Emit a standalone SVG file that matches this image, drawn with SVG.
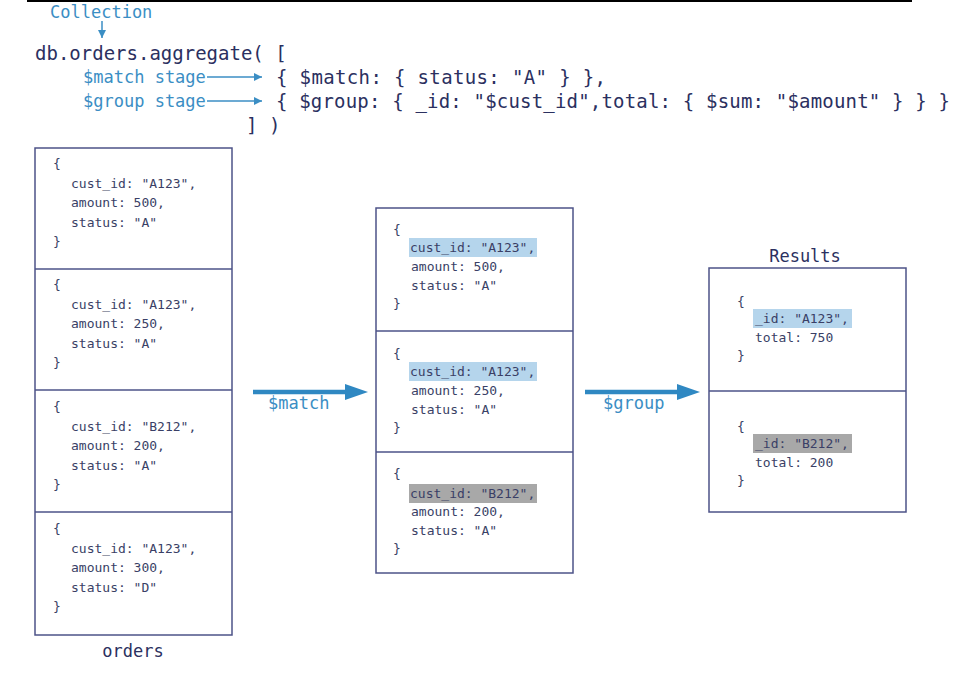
<svg xmlns="http://www.w3.org/2000/svg" width="965" height="700" viewBox="0 0 965 700">
<defs>
<style>
.code{font-family:"DejaVu Sans Mono","Liberation Mono",monospace;font-size:19px;fill:#2b3060}
.lbl{font-family:"DejaVu Sans Mono","Liberation Mono",monospace;font-size:17px;fill:#3b8ec4}
.ttl{font-family:"DejaVu Sans Mono","Liberation Mono",monospace;font-size:17px;fill:#2b3060}
.doc{font-family:"DejaVu Sans Mono","Liberation Mono",monospace;font-size:13px;fill:#3a3f66}
.box{fill:#fff;stroke:#4d5388;stroke-width:1.5}
.div{stroke:#4d5388;stroke-width:1.5}
.hlb{fill:#b5d5ec}
.hlg{fill:#a8a8a8}
.thin{stroke:#3b8ec4;stroke-width:1.5;fill:none}
.thick{stroke:#2f88c2;stroke-width:4.5;fill:none}
</style>
<marker id="sm" viewBox="0 0 10 10" refX="10" refY="5" markerWidth="9" markerHeight="8" markerUnits="userSpaceOnUse" orient="auto">
<path d="M0,0 L10,5 L0,10 z" fill="#3b8ec4"/>
</marker>
</defs>
<rect width="965" height="700" fill="#fff"/>
<line x1="27" y1="1" x2="912" y2="1" stroke="#000" stroke-width="2"/>

<g id="code">
<text class="lbl" x="50" y="18">Collection</text>
<text class="code" x="35" y="60">db.orders.aggregate( [</text>
<text class="lbl" x="83" y="83">$match stage</text>
<text class="lbl" x="83" y="107">$group stage</text>
<text class="code" x="276" y="84" textLength="330" lengthAdjust="spacing">{ $match: { status: "A" } },</text>
<text class="code" x="276" y="108" textLength="674" lengthAdjust="spacing">{ $group: { _id: "$cust_id",total: { $sum: "$amount" } } }</text>
<text class="code" x="246" y="132">] )</text>
</g>

<g id="orders">
<rect class="box" x="35" y="148" width="197" height="487"/>
<line class="div" x1="35" y1="269" x2="232" y2="269"/>
<line class="div" x1="35" y1="390" x2="232" y2="390"/>
<line class="div" x1="35" y1="512" x2="232" y2="512"/>
<g class="doc">
<text x="53" y="168">{</text><text x="71" y="188">cust_id: "A123",</text><text x="71" y="207">amount: 500,</text><text x="71" y="227">status: "A"</text><text x="53" y="246">}</text>
<text x="53" y="289">{</text><text x="71" y="309">cust_id: "A123",</text><text x="71" y="328">amount: 250,</text><text x="71" y="348">status: "A"</text><text x="53" y="367">}</text>
<text x="53" y="411">{</text><text x="71" y="431">cust_id: "B212",</text><text x="71" y="450">amount: 200,</text><text x="71" y="470">status: "A"</text><text x="53" y="489">}</text>
<text x="53" y="533">{</text><text x="71" y="553">cust_id: "A123",</text><text x="71" y="572">amount: 300,</text><text x="71" y="592">status: "D"</text><text x="53" y="611">}</text>
</g>
<text class="ttl" x="133" y="657" text-anchor="middle">orders</text>
</g>

<g id="matched">
<rect class="box" x="376" y="208" width="197" height="365"/>
<line class="div" x1="376" y1="331" x2="573" y2="331"/>
<line class="div" x1="376" y1="452" x2="573" y2="452"/>
<rect class="hlb" x="409" y="238" width="128" height="19"/>
<rect class="hlb" x="409" y="362" width="128" height="19"/>
<rect class="hlg" x="409" y="484" width="128" height="19"/>
<g class="doc">
<text x="393" y="234">{</text><text x="410" y="252">cust_id: "A123",</text><text x="411" y="271">amount: 500,</text><text x="411" y="290">status: "A"</text><text x="393" y="308">}</text>
<text x="393" y="358">{</text><text x="410" y="376">cust_id: "A123",</text><text x="411" y="395">amount: 250,</text><text x="411" y="414">status: "A"</text><text x="393" y="432">}</text>
<text x="393" y="478">{</text><text x="410" y="498">cust_id: "B212",</text><text x="411" y="516">amount: 200,</text><text x="411" y="535">status: "A"</text><text x="393" y="553">}</text>
</g>
</g>

<g id="results">
<text class="ttl" x="805" y="262" text-anchor="middle">Results</text>
<rect class="box" x="709" y="268" width="197" height="244"/>
<line class="div" x1="709" y1="391" x2="906" y2="391"/>
<rect class="hlb" x="753" y="309" width="99" height="19"/>
<rect class="hlg" x="753" y="434" width="99" height="19"/>
<g class="doc">
<text x="737" y="306">{</text><text x="755" y="323">_id: "A123",</text><text x="755" y="342">total: 750</text><text x="737" y="360">}</text>
<text x="737" y="431">{</text><text x="755" y="448">_id: "B212",</text><text x="755" y="467">total: 200</text><text x="737" y="485">}</text>
</g>
</g>

<g id="connectors">
<line class="thin" x1="102" y1="21" x2="102" y2="38" marker-end="url(#sm)"/>
<line class="thin" x1="207" y1="77" x2="262" y2="77" marker-end="url(#sm)"/>
<line class="thin" x1="207" y1="101" x2="262" y2="101" marker-end="url(#sm)"/>
<line class="thick" x1="253" y1="392" x2="348" y2="392"/>
<polygon points="345,384 368,392 345,400" fill="#2f88c2"/>
<text class="lbl" x="268" y="409">$match</text>
<line class="thick" x1="585" y1="392" x2="680" y2="392"/>
<polygon points="677,384 700,392 677,400" fill="#2f88c2"/>
<text class="lbl" x="603" y="409">$group</text>
</g>
</svg>
